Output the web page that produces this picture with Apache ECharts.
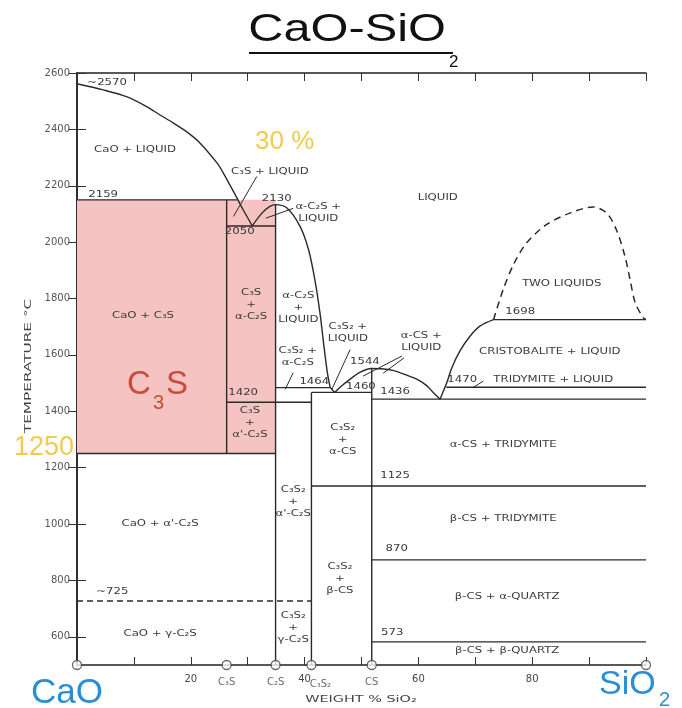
<!DOCTYPE html>
<html>
<head>
<meta charset="utf-8">
<script src="https://cdn.jsdelivr.net/npm/echarts@6/dist/echarts.min.js"></script>
<style>
  html, body { margin: 0; padding: 0; background: #fff; }
  #chart { width: 682px; height: 708px; }
</style>
</head>
<body>
<div id="chart"></div>
<script>
// axis ticks
const tempTicks = [600, 800, 1000, 1200, 1400, 1600, 1800, 2000, 2200, 2400, 2600];
const wtLabels = [20, 40, 60, 80];

// compounds on the composition axis (wt% SiO2)
const compoundNames = ['', 'C₃S', 'C₂S', 'C₃S₂', 'CS', ''];
const compoundWt = [0, 26.3, 34.9, 41.2, 51.8, 100];

// liquidus curves [wt% SiO2, °C]
const liquidusCaO = [[0, 2562], [4.6, 2540], [8.8, 2515], [12.3, 2480], [14.6, 2451], [16.9, 2423], [19.3, 2391],
  [21.6, 2352], [24.6, 2281], [25.7, 2246], [28.1, 2157], [29.2, 2115], [30.8, 2058]];
const liquidusC2S = [[30.8, 2058], [32.5, 2103], [33.9, 2127], [34.9, 2133], [36.9, 2121], [39.2, 2056],
  [40.7, 1973], [41.8, 1867], [42.7, 1749], [43.4, 1631], [44.0, 1537], [44.5, 1484]];
const liquidusC3S2 = [[44.5, 1484], [45.3, 1467]];
const liquidusCS = [[45.3, 1467], [46.5, 1490], [47.5, 1506], [49.7, 1538], [51.8, 1552], [53.5, 1551],
  [55.5, 1545], [57.7, 1530], [59.8, 1513], [61.5, 1490], [62.6, 1467], [63.8, 1443]];
const liquidusSiO2 = [[63.8, 1443], [65.0, 1502], [65.9, 1555], [67.3, 1614], [69.1, 1667], [70.8, 1702], [73.2, 1725]];
const twoLiquids = [[73.2, 1725], [74.9, 1832], [76.7, 1920], [79.0, 1997], [82.5, 2062], [86.6, 2103],
  [90.7, 2125], [93.1, 2103], [94.8, 2044], [96.3, 1950], [97.2, 1867], [98.1, 1785], [99.5, 1732], [100, 1725]];

// isotherms [°C, from wt%, to wt%]
const isotherms = [
  [2150, 0, 28.1], [2057, 26.3, 34.9], [1250, 0, 34.9], [1432, 26.3, 41.2], [1484, 34.9, 44.5],
  [1467, 41.2, 51.8], [1443, 51.8, 100], [1485, 64.9, 100], [1725, 73.2, 100],
  [1135, 41.2, 100], [873, 51.8, 100], [582, 51.8, 100]
];
const dashedIsotherm = [727, 0, 41.2];

// compound lines [wt%, top °C, bottom °C]
const compoundLines = [[26.3, 2150, 1250], [34.9, 2133, 500], [41.2, 1467, 500], [51.8, 1552, 500]];

// C3S stability field (highlighted)
const c3sField = [0, 1250, 34.9, 2150];

// leader lines for field labels
const leaders = [
  [[31.6, 2233], [27.5, 2091]],
  [[38.0, 2120], [33.2, 2085]],
  [[48.0, 1619], [44.8, 1478]],
  [[38.0, 1537], [36.6, 1478]],
  [[57.1, 1596], [50.3, 1525]],
  [[57.5, 1590], [53.8, 1535]],
  [[71.4, 1507], [69.6, 1484]]
];

// field labels [text, wt%, °C]
const notes = [
  ['~2570', 5.3, 2565],
  ['CaO + LIQUID', 10.2, 2327],
  ['2159', 4.6, 2168],
  ['C₃S + LIQUID', 33.9, 2250],
  ['2130', 35.1, 2156],
  ['α-C₂S +\nLIQUID', 42.4, 2104],
  ['2050', 28.6, 2037],
  ['LIQUID', 63.4, 2158],
  ['TWO LIQUIDS', 85.2, 1853],
  ['1698', 77.9, 1754],
  ['CaO + C₃S', 11.6, 1740],
  ['C₃S\n+\nα-C₂S', 30.6, 1779],
  ['α-C₂S\n+\nLIQUID', 38.9, 1768],
  ['C₃S₂ +\nLIQUID', 47.6, 1680],
  ['C₃S₂ +\nα-C₂S', 38.8, 1595],
  ['α-CS +\nLIQUID', 60.5, 1648],
  ['1544', 50.6, 1577],
  ['1464', 41.7, 1506],
  ['1460', 49.9, 1489],
  ['1436', 55.9, 1471],
  ['1470', 67.7, 1513],
  ['CRISTOBALITE + LIQUID', 83.1, 1612],
  ['TRIDYMITE + LIQUID', 83.7, 1513],
  ['1420', 29.2, 1467],
  ["C₃S\n+\nα'-C₂S", 30.4, 1361],
  ['C₃S₂\n+\nα-CS', 46.7, 1301],
  ['α-CS + TRIDYMITE', 74.9, 1283],
  ['1125', 55.9, 1170],
  ["C₃S₂\n+\nα'-C₂S", 38.0, 1078],
  ["CaO + α'-C₂S", 14.6, 1000],
  ['β-CS + TRIDYMITE', 74.9, 1018],
  ['870', 56.2, 912],
  ['C₃S₂\n+\nβ-CS', 46.2, 805],
  ['~725', 6.2, 759],
  ['β-CS + α-QUARTZ', 75.6, 742],
  ['CaO + γ-C₂S', 14.6, 611],
  ['C₃S₂\n+\nγ-C₂S', 38.0, 632],
  ['573', 55.4, 614],
  ['β-CS + β-QUARTZ', 75.6, 550]
];

const ink = '#2a2a2a';
const gold = '#efcb4f';
const blue = '#2b8ed3';
const red = '#cc4a3a';

const chart = echarts.init(document.getElementById('chart'));

function lineSeries(data, extra) {
  return Object.assign({
    type: 'line', data: data, symbol: 'none', silent: true, z: 3,
    lineStyle: { color: ink, width: 1.4 }
  }, extra || {});
}

const series = [];

// pink C3S field
series.push({
  type: 'custom', z: 1, silent: true,
  encode: { x: [0, 2], y: [1, 3] },
  data: [c3sField],
  renderItem: function (params, api) {
    const a = api.coord([api.value(0), api.value(1)]);
    const b = api.coord([api.value(2), api.value(3)]);
    return {
      type: 'rect',
      shape: { x: a[0], y: b[1], width: b[0] - a[0], height: a[1] - b[1] },
      style: { fill: '#f5c3c1' }
    };
  }
});

[liquidusCaO, liquidusC2S, liquidusC3S2, liquidusCS, liquidusSiO2].forEach(function (c) {
  series.push(lineSeries(c, { smooth: 0.3 }));
});
series.push(lineSeries(twoLiquids, { smooth: 0.3, lineStyle: { color: ink, width: 1.5, type: [7, 5] } }));

isotherms.forEach(function (t) {
  series.push(lineSeries([[t[1], t[0]], [t[2], t[0]]]));
});
series.push(lineSeries([[dashedIsotherm[1], dashedIsotherm[0]], [dashedIsotherm[2], dashedIsotherm[0]]],
  { lineStyle: { color: ink, width: 1.4, type: [6, 4] } }));

compoundLines.forEach(function (v) {
  series.push(lineSeries([[v[0], v[1]], [v[0], v[2]]]));
});

leaders.forEach(function (l) {
  series.push(lineSeries(l, { lineStyle: { color: ink, width: 1 } }));
});

// field labels
series.push({
  type: 'custom', z: 5, silent: true,
  encode: { x: 0, y: 1 },
  data: notes.map(function (n) { return [n[1], n[2]]; }),
  renderItem: function (params, api) {
    const p = api.coord([api.value(0), api.value(1)]);
    return {
      type: 'text', x: p[0], y: p[1], scaleX: 1.3,
      style: {
        text: notes[params.dataIndex][0],
        font: '9px "DejaVu Sans"', fill: '#3a3a3a', lineHeight: 12,
        textAlign: 'center', align: 'center',
        textVerticalAlign: 'middle', verticalAlign: 'middle'
      }
    };
  }
});

// compound markers on the composition axis
series.push({
  type: 'scatter', z: 10, clip: false, silent: true,
  symbol: 'circle', symbolSize: 9,
  itemStyle: { color: '#fff', borderColor: '#444', borderWidth: 1.3 },
  data: compoundWt.map(function (x, i) {
    return {
      value: [x, 500], name: compoundNames[i],
      label: { offset: compoundNames[i] === 'C₃S₂' ? [9, 2] : [0, 0] }
    };
  }),
  label: {
    show: true, position: 'bottom', distance: 7,
    formatter: function (p) { return p.name; },
    fontFamily: 'DejaVu Sans', fontSize: 10, color: '#444'
  }
});

const axisLine = { show: true, lineStyle: { color: '#222', width: 1.5 } };

chart.setOption({
  animation: false,
  grid: { left: 77, right: 36, top: 73, bottom: 43 },
  xAxis: [{
    type: 'value', min: 0, max: 100, interval: 10, position: 'bottom',
    axisLine: axisLine, splitLine: { show: false },
    axisTick: { inside: true, length: 8, lineStyle: { color: '#333' } },
    axisLabel: {
      margin: 9, fontFamily: 'DejaVu Sans', fontSize: 10, color: '#444',
      formatter: function (v) { return wtLabels.indexOf(v) >= 0 ? String(v) : ''; }
    }
  }, {
    type: 'value', min: 0, max: 100, interval: 10, position: 'top',
    axisLine: axisLine, splitLine: { show: false },
    axisTick: { inside: true, length: 8, lineStyle: { color: '#333' } },
    axisLabel: { show: false }
  }],
  yAxis: [{
    type: 'value', min: 500, max: 2600, position: 'left',
    axisLine: axisLine, splitLine: { show: false },
    axisTick: { inside: true, length: 9, customValues: tempTicks, lineStyle: { color: '#333' } },
    axisLabel: {
      customValues: tempTicks, margin: 7, fontFamily: 'DejaVu Sans', fontSize: 10, color: '#555',
      formatter: function (v) { return String(v); }
    }
  }, {
    type: 'value', min: 500, max: 2600, position: 'right',
    axisLine: axisLine, splitLine: { show: false },
    axisTick: { inside: true, length: 9, customValues: tempTicks, lineStyle: { color: '#333' } },
    axisLabel: { show: false }
  }],
  series: series,
  graphic: [
    // title
    { type: 'text', x: 446, y: 30, scaleX: 1.25, z: 100, silent: true,
      style: { text: 'CaO-SiO', font: '39px "Liberation Sans"', fill: '#111', textAlign: 'right', textVerticalAlign: 'middle' } },
    { type: 'text', x: 449, y: 62, z: 100, silent: true,
      style: { text: '2', font: '17px "Liberation Sans"', fill: '#111', textAlign: 'left', textVerticalAlign: 'middle' } },
    { type: 'line', z: 100, silent: true, shape: { x1: 249, y1: 53, x2: 453, y2: 53 }, style: { stroke: '#111', lineWidth: 2 } },
    // axis titles
    { type: 'text', x: 29, y: 366, rotation: Math.PI / 2, scaleX: 1.7, z: 100, silent: true,
      style: { text: 'TEMPERATURE °C', font: '9px "DejaVu Sans"', fill: '#444', textAlign: 'center', textVerticalAlign: 'middle' } },
    { type: 'text', x: 361, y: 700, scaleX: 1.6, z: 100, silent: true,
      style: { text: 'WEIGHT % SiO₂', font: '9px "DejaVu Sans"', fill: '#444', textAlign: 'center', textVerticalAlign: 'middle' } },
    // end members
    { type: 'text', x: 31, y: 693, z: 100, silent: true,
      style: { text: 'CaO', font: '35px "Liberation Sans"', fill: blue, textAlign: 'left', textVerticalAlign: 'middle' } },
    { type: 'text', x: 599, y: 685, z: 100, silent: true,
      style: { text: 'SiO', font: '34px "Liberation Sans"', fill: blue, textAlign: 'left', textVerticalAlign: 'middle' } },
    { type: 'text', x: 659, y: 700, z: 100, silent: true,
      style: { text: '2', font: '20px "Liberation Sans"', fill: blue, textAlign: 'left', textVerticalAlign: 'middle' } },
    // highlights
    { type: 'text', x: 74, y: 448, z: 100, silent: true,
      style: { text: '1250', font: '27px "Liberation Sans"', fill: gold, textAlign: 'right', textVerticalAlign: 'middle' } },
    { type: 'text', x: 255, y: 142, z: 100, silent: true,
      style: { text: '30 %', font: '26px "Liberation Sans"', fill: gold, textAlign: 'left', textVerticalAlign: 'middle' } },
    { type: 'text', x: 127, y: 385, z: 100, silent: true,
      style: { text: 'C', font: '33px "Liberation Sans"', fill: red, textAlign: 'left', textVerticalAlign: 'middle' } },
    { type: 'text', x: 153, y: 403, z: 100, silent: true,
      style: { text: '3', font: '20px "Liberation Sans"', fill: red, textAlign: 'left', textVerticalAlign: 'middle' } },
    { type: 'text', x: 166, y: 385, z: 100, silent: true,
      style: { text: 'S', font: '33px "Liberation Sans"', fill: red, textAlign: 'left', textVerticalAlign: 'middle' } }
  ]
});
</script>
</body>
</html>
